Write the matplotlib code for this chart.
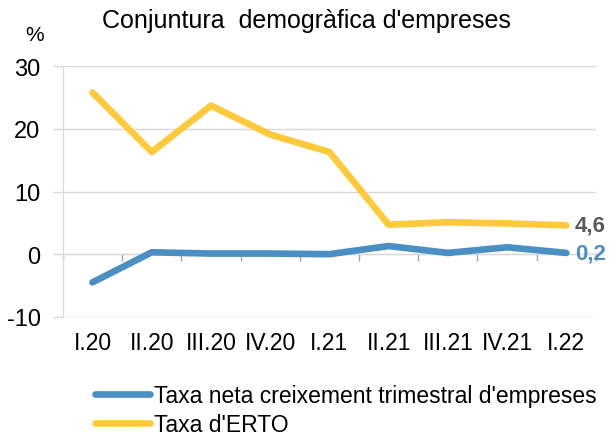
import matplotlib.pyplot as plt

plt.rcParams['font.family'] = ['Liberation Sans', 'DejaVu Sans']
plt.rcParams['axes.unicode_minus'] = False

# Data
quarters = ["I.20", "II.20", "III.20", "IV.20", "I.21", "II.21", "III.21", "IV.21", "I.22"]
net_growth = [-4.5, 0.3, 0.1, 0.1, 0.0, 1.3, 0.2, 1.1, 0.2]
erto_rate = [25.8, 16.3, 23.7, 19.1, 16.3, 4.7, 5.1, 4.9, 4.6]

blue = "#4A8FC4"
yellow = "#FFC93C"

fig = plt.figure(figsize=(6.1, 4.39), dpi=100)
ax = fig.add_axes([0.103, 0.276, 0.874, 0.571])

x = list(range(len(quarters)))
l1, = ax.plot(x, net_growth, color=blue, lw=4.8, solid_capstyle="round",
              label="Taxa neta creixement trimestral d'empreses")
l2, = ax.plot(x, erto_rate, color=yellow, lw=4.8, solid_capstyle="round",
              label="Taxa d'ERTO")

ax.set_xlim(-0.5, len(quarters) - 0.5)
ax.set_ylim(-10, 30)
ax.set_yticks([-10, 0, 10, 20, 30])
ax.grid(axis="y", color="#D9D9D9", lw=1)
ax.set_axisbelow(True)
ax.tick_params(axis="y", labelsize=17, length=7, color="#D9D9D9", width=1, pad=9)
for s in ["top", "right", "bottom"]:
    ax.spines[s].set_visible(False)
ax.spines["left"].set_color("#D9D9D9")

# category labels at the bottom
ax.set_xticks(x)
ax.set_xticklabels(quarters, fontsize=16.5)
ax.tick_params(axis="x", length=0, pad=10)

# zero axis with tick marks between categories
sec = ax.secondary_xaxis(0.25)
sec.set_xticks([i - 0.5 for i in range(len(quarters) + 1)])
sec.set_xticklabels([])
sec.tick_params(length=5, color="#A6A6A6", width=1)
sec.spines["bottom"].set_color("#A6A6A6")

# end labels
ax.annotate("4,6", (x[-1], erto_rate[-1]), xytext=(6, 0), textcoords="offset points",
            va="center", ha="left", fontsize=16, fontweight="bold", color="#595959",
            annotation_clip=False)
ax.annotate("0,2", (x[-1], net_growth[-1]), xytext=(6, 0), textcoords="offset points",
            va="center", ha="left", fontsize=16, fontweight="bold", color=blue,
            annotation_clip=False)

fig.text(0.502, 0.952, "Conjuntura  demogràfica d'empreses", ha="center", va="center", fontsize=18)
fig.text(0.057, 0.918, "%", ha="center", va="center", fontsize=15)

leg = fig.legend(handles=[l1, l2], loc="upper left", bbox_to_anchor=(0.156, 0.124),
                 frameon=False, fontsize=16.5, handlelength=2.4, handletextpad=0.15,
                 labelspacing=0.3, borderaxespad=0, borderpad=0)

fig.savefig("out.png", dpi=100)
